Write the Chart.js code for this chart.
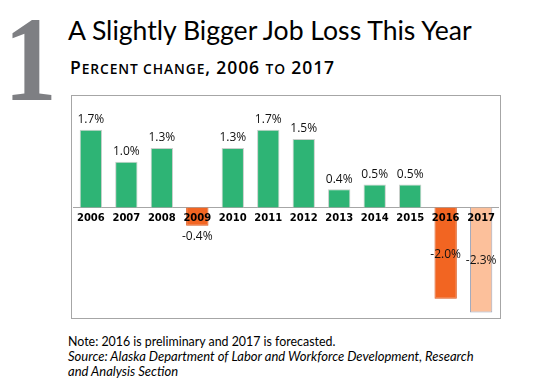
<!DOCTYPE html>
<html>
<head>
<meta charset="utf-8">
<script src="https://cdn.jsdelivr.net/npm/chart.js@4"></script>
<style>
  body { margin: 0; width: 535px; height: 388px; background: #fff; position: relative; overflow: hidden; font-family: Lato, sans-serif; }
  .num { position: absolute; left: 4px; top: 0px; font: 700 120px 'Liberation Serif', serif; color: #7e7f83; line-height: 1; transform: scaleX(0.88); transform-origin: left top; }
  .title { position: absolute; left: 68px; top: 14px; font: 400 26.6px Lato, sans-serif; color: #000; white-space: nowrap; }
  .sub { position: absolute; left: 70px; top: 55px; font: 600 17.5px 'Open Sans', sans-serif; letter-spacing: 0.9px; color: #000; white-space: nowrap; }
  .sub .sc { font-size: 13.8px; }
  .box { position: absolute; left: 71px; top: 95px; width: 428px; height: 222px; border: 1px solid #a6a6a6; }
  .box canvas { display: block; }
  .foot { position: absolute; left: 68px; top: 335px; font: 400 12.4px Lato, sans-serif; color: #000; line-height: 14px; white-space: nowrap; }
  .foot i { font-style: italic; font-size: 13px; }
</style>
</head>
<body>
<div class="num">1</div>
<div class="title">A Slightly Bigger Job Loss This Year</div>
<div class="sub">P<span class="sc">ERCENT CHANGE</span>, 2006 <span class="sc">TO</span> 2017</div>
<div class="box"><canvas id="chart" width="428" height="222"></canvas></div>
<div class="foot">Note: 2016 is preliminary and 2017 is forecasted.<br><i>Source: Alaska Department of Labor and Workforce Development, Research<br>and Analysis Section</i></div>

<script>
// ------------------------
// Data
// ------------------------
const years = ['2006', '2007', '2008', '2009', '2010', '2011', '2012', '2013', '2014', '2015', '2016', '2017']
const change = [1.7, 1.0, 1.3, -0.4, 1.3, 1.7, 1.5, 0.4, 0.5, 0.5, -2.0, -2.3]

const GREEN = '#2eb475'
const ORANGE = '#f26522'
const PEACH = '#fcc09b'

const barColor = (v, i) => (i === years.length - 1 ? PEACH : v < 0 ? ORANGE : GREEN)
const borderColor = (v, i) => (i === years.length - 1 ? '#9aa6bd' : v < 0 ? '#d9561a' : '#c9cfcb')

// value labels: above positive bars, below short negative bars, centred in long ones
const valueLabels = {
  id: 'valueLabels',
  afterDatasetsDraw(chart) {
    const { ctx } = chart
    const meta = chart.getDatasetMeta(0)
    ctx.save()
    ctx.font = '12px "Open Sans", sans-serif'
    ctx.fillStyle = '#111'
    ctx.textAlign = 'center'
    ctx.textBaseline = 'middle'
    meta.data.forEach((bar, i) => {
      const v = change[i]
      const text = v.toFixed(1) + '%'
      let y
      if (v >= 0) y = bar.y - 10
      else if (bar.y - bar.base > 40) y = (bar.y + bar.base) / 2 + 1
      else y = bar.y + 11
      ctx.fillText(text, bar.x, y)
    })
    ctx.restore()
  },
}

new Chart(document.getElementById('chart'), {
  type: 'bar',
  data: {
    labels: years,
    datasets: [
      {
        data: change,
        backgroundColor: change.map(barColor),
        borderColor: change.map(borderColor),
        borderWidth: 1,
        barPercentage: 0.63,
        categoryPercentage: 1,
      },
    ],
  },
  options: {
    responsive: false,
    animation: false,
    devicePixelRatio: 1,
    layout: { padding: 0 },
    scales: {
      x: {
        position: { y: 0 },
        grid: { display: false, drawTicks: false },
        border: { display: true, color: '#a6a6a6', width: 1 },
        ticks: {
          z: 1,
          padding: 5,
          color: '#000',
          maxRotation: 0,
          autoSkip: false,
          font: { family: 'DejaVu Sans', weight: 'bold', size: 10 },
        },
      },
      y: {
        display: false,
        min: -2.42,
        max: 2.44,
      },
    },
    plugins: {
      legend: { display: false },
      tooltip: { enabled: false },
    },
  },
  plugins: [valueLabels],
})
</script>
</body>
</html>
